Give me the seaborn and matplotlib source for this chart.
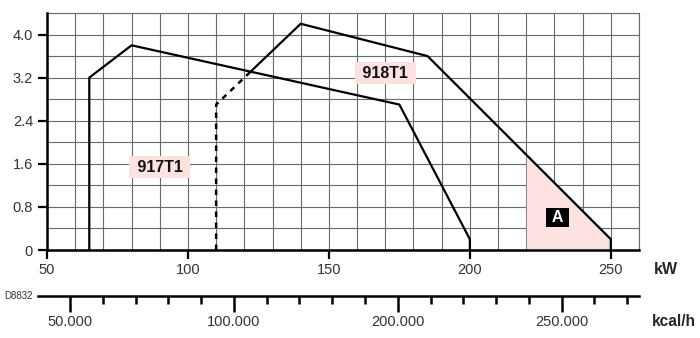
import matplotlib
matplotlib.use("Agg")
import matplotlib.pyplot as plt
from matplotlib import font_manager
from matplotlib.ticker import MultipleLocator, FixedLocator
import seaborn as sns
import pandas as pd

# ---- data ----
kw_917 = [65, 65, 80, 175, 200, 200]
p_917 = [0, 3.2, 3.8, 2.7, 0.2, 0]
kw_918_dash = [110, 110, 122.2]
p_918_dash = [0, 2.7, 3.31]
kw_918 = [122.2, 140, 185, 250, 250]
p_918 = [3.31, 4.2, 3.6, 0.2, 0]
area_kw = [220, 250]
area_top = [1.77, 0.2]
y_ticks = [0, 0.8, 1.6, 2.4, 3.2, 4.0]
y_labels = ["0", "0.8", "1.6", "2.4", "3.2", "4.0"]
x_ticks = [50, 100, 150, 200, 250]
x_labels = ["50", "100", "150", "200", "250"]
kcal_ticks = [50000, 100000, 150000, 200000]
kcal_labels = ["50.000", "100.000", "200.000", "250.000"]
kcal_minor = [60000, 70000, 80000, 90000, 110000, 120000, 130000, 140000,
              160000, 170000, 180000, 190000, 210000, 220000]

sns.set_theme(style="white")
names = {f.name for f in font_manager.fontManager.ttflist}
narrow = "Liberation Sans Narrow" if "Liberation Sans Narrow" in names else "Liberation Sans"
plt.rcParams['font.family'] = [narrow, 'DejaVu Sans']
BOLD = ["Liberation Sans", "DejaVu Sans"]

W, H = 700, 338
fig = plt.figure(figsize=(7, 3.38), dpi=100)
ax = fig.add_axes([47 / W, 1 - 250 / H, 592 / W, 237 / H])

df917 = pd.DataFrame({"kw": kw_917, "p": p_917})
df918d = pd.DataFrame({"kw": kw_918_dash, "p": p_918_dash})
df918 = pd.DataFrame({"kw": kw_918, "p": p_918})

ax.fill_between(area_kw, [0, 0], area_top, color="#fde2e2", lw=0, zorder=1)
sns.lineplot(data=df917, x="kw", y="p", sort=False, estimator=None, color="black", lw=1.6, ax=ax, zorder=3)
sns.lineplot(data=df918d, x="kw", y="p", sort=False, estimator=None, color="black", lw=1.8,
             linestyle=(0, (2.2, 2.2)), ax=ax, zorder=3)
sns.lineplot(data=df918, x="kw", y="p", sort=False, estimator=None, color="black", lw=1.6, ax=ax, zorder=3)

ax.set_xlim(50, 260)
ax.set_ylim(0, 4.4)
ax.set_xlabel("")
ax.set_ylabel("")
ax.xaxis.set_major_locator(FixedLocator(x_ticks))
ax.set_xticklabels(x_labels)
ax.xaxis.set_minor_locator(MultipleLocator(10))
ax.yaxis.set_major_locator(FixedLocator(y_ticks))
ax.set_yticklabels(y_labels)
ax.yaxis.set_minor_locator(MultipleLocator(0.4))
ax.grid(True, which="both", color="#6a6a6a", lw=0.8, zorder=0)
ax.set_axisbelow(True)
ax.tick_params(which="major", direction="out", length=6.5, width=1.6, color="black",
               labelsize=10.5, labelcolor="#333333", pad=2.5, bottom=True, left=True)
ax.tick_params(axis="y", which="major", pad=3.5)
ax.tick_params(which="minor", length=0)
for s in ["left", "bottom"]:
    ax.spines[s].set_linewidth(1.8)
    ax.spines[s].set_color("black")
    ax.spines[s].set_zorder(4)
for s in ["top", "right"]:
    ax.spines[s].set_linewidth(0.8)
    ax.spines[s].set_color("#6a6a6a")

box = dict(boxstyle="square,pad=0.22", fc="#fde2e2", ec="none")
ax.text(90, 1.54, " 917T1 ", ha="center", va="center", fontsize=11.5, fontweight="bold",
        family=BOLD, color="#111111", bbox=box, zorder=5)
ax.text(170, 3.28, " 918T1 ", ha="center", va="center", fontsize=11.5, fontweight="bold",
        family=BOLD, color="#111111", bbox=box, zorder=5)
ax.text(231, 0.6, " A ", ha="center", va="center", fontsize=11.5, fontweight="bold", color="white",
        family=BOLD, bbox=dict(boxstyle="square,pad=0.12", fc="black", ec="none"), zorder=5)

# second scale kcal/h
left_kw = 50 - 9 / (592 / 210)
ax2 = fig.add_axes([38 / W, 1 - 296 / H, 601 / W, 0.0005])
ax2.set_facecolor("none")
ax2.set_xlim(left_kw * 860, 260 * 860)
ax2.set_yticks([])
for s in ["left", "right", "top"]:
    ax2.spines[s].set_visible(False)
ax2.spines["bottom"].set_linewidth(1.8)
ax2.spines["bottom"].set_color("black")
ax2.xaxis.set_major_locator(FixedLocator(kcal_ticks))
ax2.set_xticklabels(kcal_labels)
ax2.xaxis.set_minor_locator(FixedLocator(kcal_minor))
ax2.tick_params(axis="x", which="major", direction="out", length=11.5, width=1.8, color="black",
                labelsize=10.5, labelcolor="#333333", pad=2.5, bottom=True)
ax2.tick_params(axis="x", which="minor", direction="out", length=5.8, width=1.8, color="black",
                bottom=True)

fig.text(654 / W, 1 - 270 / H, "kW", ha="left", va="center", fontsize=11.5, fontweight="bold",
         family=BOLD)
fig.text(652 / W, 1 - 321 / H, "kcal/h", ha="left", va="center", fontsize=11.2, fontweight="bold",
         family=BOLD)
fig.text(33 / W, 1 - 296 / H, "D8832", ha="right", va="center", fontsize=7, color="#333333")

fig.savefig("out.png", dpi=100)
